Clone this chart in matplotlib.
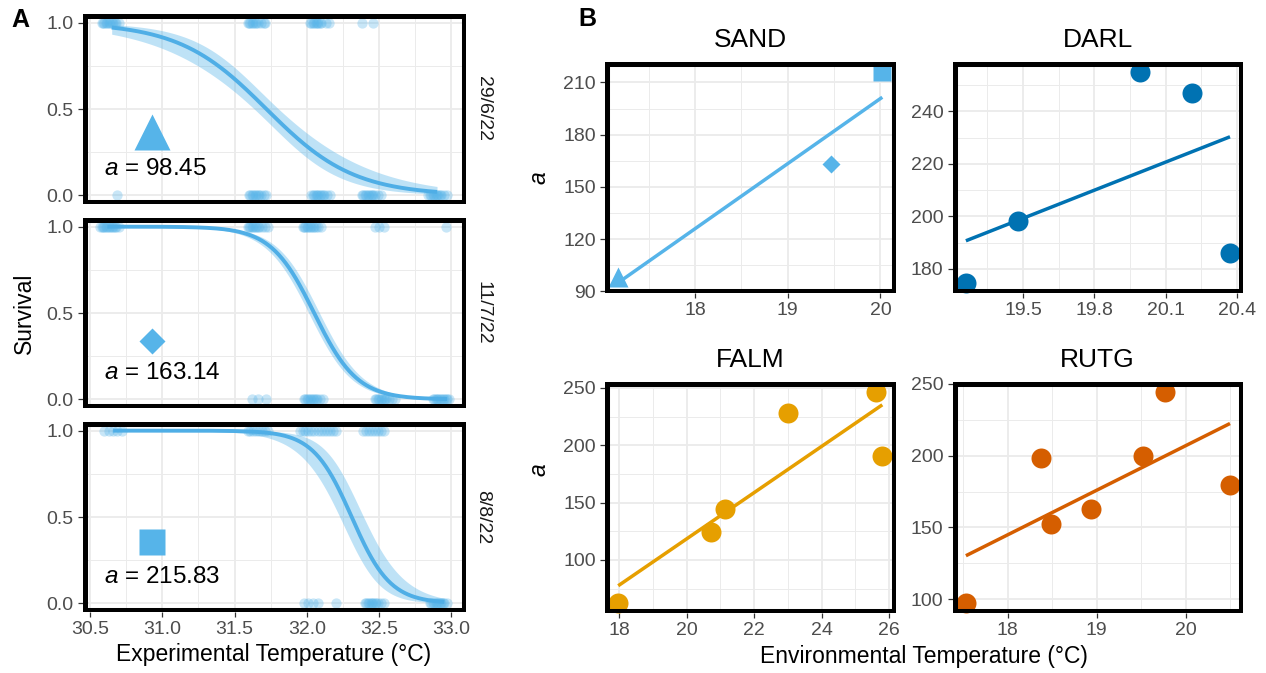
import numpy as np
import matplotlib
matplotlib.use("Agg")
import matplotlib.pyplot as plt

plt.rcParams["font.family"] = ["Liberation Sans", "DejaVu Sans"]
plt.rcParams["mathtext.fontset"] = "custom"
plt.rcParams["mathtext.rm"] = "Liberation Sans"
plt.rcParams["mathtext.it"] = "Liberation Sans:italic"

# ---------------- panel A: survival vs experimental temperature ----------------
dates = ["29/6/22", "11/7/22", "8/8/22"]
a_vals = [98.45, 163.14, 215.83]
a_shapes = ["^", "D", "s"]
a_shape_size = [26.6, 13.7, 19.4]
a_shape_y = [0.367, 0.34, 0.355]

# raw observations: temperatures of survivors (1) and dead (0)
alive_1 = [30.58, 30.59, 30.60, 30.61, 30.62, 30.63, 30.64, 30.65, 30.66, 30.67, 30.68, 30.70,
           31.59, 31.60, 31.61, 31.62, 31.63, 31.64, 31.65, 31.66, 31.68, 31.70, 31.71,
           32.02, 32.03, 32.04, 32.05, 32.06, 32.07, 32.08, 32.09, 32.10, 32.13, 32.15,
           32.38, 32.46]
dead_1 = [30.69,
          31.60, 31.61, 31.62, 31.63, 31.64, 31.65, 31.66, 31.67, 31.68, 31.70, 31.72,
          32.03, 32.04, 32.05, 32.06, 32.07, 32.08, 32.09, 32.10, 32.11, 32.12, 32.14, 32.16,
          32.38, 32.39, 32.40, 32.41, 32.42, 32.43, 32.44, 32.45, 32.46, 32.47, 32.49, 32.51,
          32.84, 32.85, 32.86, 32.87, 32.88, 32.89, 32.90, 32.91, 32.92, 32.93, 32.95, 32.97]
alive_2 = [30.57, 30.58, 30.59, 30.60, 30.61, 30.62, 30.63, 30.64, 30.65, 30.66, 30.67, 30.68, 30.70,
           31.59, 31.60, 31.61, 31.62, 31.63, 31.64, 31.65, 31.66, 31.67, 31.69, 31.71, 31.73,
           31.97, 31.98, 31.99, 32.00, 32.01, 32.02, 32.03, 32.04, 32.05, 32.06, 32.08, 32.10,
           32.47, 32.50, 32.53, 32.96]
dead_2 = [31.62, 31.66, 31.72,
          31.98, 31.99, 32.00, 32.01, 32.02, 32.03, 32.04, 32.05, 32.06, 32.07, 32.09, 32.11,
          32.47, 32.48, 32.49, 32.50, 32.51, 32.52, 32.53, 32.54, 32.55, 32.57, 32.59, 32.61,
          32.87, 32.88, 32.89, 32.90, 32.91, 32.92, 32.93, 32.94, 32.95, 32.96, 32.97, 32.98]
alive_3 = [30.60, 30.63, 30.66, 30.69, 30.72,
           31.59, 31.61, 31.63, 31.65, 31.67, 31.69, 31.71, 31.73,
           31.95, 31.97, 31.99, 32.01, 32.03, 32.05, 32.08,
           32.10, 32.12, 32.14, 32.16, 32.18, 32.20,
           32.39, 32.41, 32.43, 32.45, 32.47, 32.49, 32.51, 32.53]
dead_3 = [31.98, 32.01, 32.04, 32.08, 32.20,
          32.40, 32.41, 32.42, 32.43, 32.44, 32.45, 32.46, 32.47, 32.48, 32.49, 32.51, 32.53,
          32.85, 32.86, 32.87, 32.88, 32.89, 32.90, 32.91, 32.92, 32.93, 32.94, 32.95, 32.97]
alive = [alive_1, alive_2, alive_3]
dead = [dead_1, dead_2, dead_3]

# fitted logistic (glm) curves, parameters
fit_mid = [31.72, 32.05, 32.31]
fit_slope = [3.3, 6.7, 7.5]
ci_mid = [0.27, 0.25, 0.6]      # half width of CI on logit scale at midpoint
ci_grow = [0.8, 0.5, 1.8]       # growth of CI half width away from midpoint
fit_from = [30.65, 30.62, 30.66]
fit_to = [32.90, 32.97, 32.95]

# ---------------- panel B: a vs environmental temperature ----------------
sites = ["SAND", "DARL", "FALM", "RUTG"]
site_cols = ["#56B4E9", "#0072B2", "#E69F00", "#D55E00"]
sand_t = [17.17, 19.47, 20.02]
sand_a = a_vals
darl_t = [19.26, 19.48, 19.99, 20.21, 20.37]
darl_a = [174.7, 198.1, 254.9, 247.0, 186.1]
falm_t = [17.97, 20.71, 21.13, 23.0, 25.62, 25.8]
falm_a = [62.7, 124.7, 144.2, 228.5, 246.2, 190.6]
rutg_t = [17.53, 18.37, 18.49, 18.94, 19.52, 19.77, 20.50]
rutg_a = [97.6, 198.4, 152.4, 163.0, 200.0, 244.2, 179.4]
site_t = [sand_t, darl_t, falm_t, rutg_t]
site_a = [sand_a, darl_a, falm_a, rutg_a]
site_xticks = [[18, 19, 20], [19.5, 19.8, 20.1, 20.4], [18, 20, 22, 24, 26], [18, 19, 20]]
site_yticks = [[90, 120, 150, 180, 210], [180, 200, 220, 240], [100, 150, 200, 250], [100, 150, 200, 250]]

W, H = 1266, 673
fig = plt.figure(figsize=(W / 100, H / 100), dpi=100)


def px_axes(l, t, w, h):
    return fig.add_axes([l / W, 1 - (t + h) / H, w / W, h / H])


def ftext(x, y, s, **kw):
    fig.text(x / W, 1 - y / H, s, **kw)


def minors(ticks):
    t = np.asarray(ticks, float)
    d = t[1] - t[0]
    ext = np.concatenate([[t[0] - d], t, [t[-1] + d]])
    return (ext[:-1] + ext[1:]) / 2


def expand(lo, hi):
    r = hi - lo
    return lo - 0.05 * r, hi + 0.05 * r


def style(ax, xt, yt):
    ax.set_xticks(xt)
    ax.set_yticks(yt)
    ax.set_xticks(minors(xt), minor=True)
    ax.set_yticks(minors(yt), minor=True)
    ax.grid(True, which="major", color="#EBEBEB", lw=1.3)
    ax.grid(True, which="minor", color="#EBEBEB", lw=0.7)
    ax.set_axisbelow(True)
    ax.tick_params(which="major", length=3.6, width=0.9, color="#333333",
                   labelcolor="#4D4D4D", labelsize=14, pad=3)
    ax.tick_params(which="minor", length=0)
    for s in ax.spines.values():
        s.set_linewidth(6.5)
        s.set_color("black")
        s.set_clip_path(ax.patch)


blue = "#56B4E9"
all_t = np.concatenate([np.concatenate([a, d]) for a, d in zip(alive, dead)])
xlim_a = expand(all_t.min(), all_t.max())
facet_top = [14, 218, 422]
for i in range(3):
    ax = px_axes(82.7, facet_top[i], 383.3, 190)
    style(ax, [30.5, 31.0, 31.5, 32.0, 32.5, 33.0], [0.0, 0.5, 1.0])
    ax.set_xlim(*xlim_a)
    ax.set_ylim(-0.05, 1.05)
    ax.set_yticklabels(["0.0", "0.5", "1.0"])
    if i < 2:
        ax.tick_params(axis="x", which="major", length=0, labelbottom=False)
    else:
        ax.set_xticklabels(["30.5", "31.0", "31.5", "32.0", "32.5", "33.0"])
    ax.scatter(alive[i], np.ones(len(alive[i])), s=55, color=blue, alpha=0.32, lw=0)
    ax.scatter(dead[i], np.zeros(len(dead[i])), s=55, color=blue, alpha=0.32, lw=0)
    xs = np.linspace(fit_from[i], fit_to[i], 300)
    eta = -fit_slope[i] * (xs - fit_mid[i])
    hw = np.sqrt(ci_mid[i] ** 2 + (ci_grow[i] * (xs - fit_mid[i])) ** 2)
    ax.fill_between(xs, 1 / (1 + np.exp(-(eta - hw))), 1 / (1 + np.exp(-(eta + hw))),
                    color=blue, alpha=0.38, lw=0)
    ax.plot(xs, 1 / (1 + np.exp(-eta)), color="#4FAEE6", lw=2.8, solid_capstyle="butt")
    ax.plot([30.93], [a_shape_y[i]], marker=a_shapes[i], ms=a_shape_size[i],
            color=blue, mec="none", ls="none")
    ax.text(30.594, 0.117, r"$a$ = %.2f" % a_vals[i], fontsize=17.5, color="black",
            va="baseline", ha="left")
    ftext(483, facet_top[i] + 95, dates[i], rotation=-90, ha="center", va="center",
          fontsize=14, color="#1A1A1A")

ftext(274, 655, "Experimental Temperature (°C)", ha="center", va="center", fontsize=16.5)
ftext(24, 313, "Survival", ha="center", va="center", rotation=90, fontsize=16.5)
ftext(20, 20, "A", ha="center", va="center", fontsize=18, fontweight="bold")

# panel B
sand_shapes = ["^", "D", "s"]
sand_sizes = [14.4, 8.7, 13.0]
b_left = [605, 952.7, 605, 952.7]
b_top = [61.7, 61.7, 381.7, 381.7]
for k in range(4):
    ax = px_axes(b_left[k], b_top[k], 290.5, 231.5)
    style(ax, site_xticks[k], site_yticks[k])
    t = np.asarray(site_t[k], float)
    a = np.asarray(site_a[k], float)
    coef = np.polyfit(t, a, 1)
    lx = np.array([t.min(), t.max()])
    ly = np.polyval(coef, lx)
    ax.set_xlim(*expand(t.min(), t.max()))
    ax.set_ylim(*expand(min(a.min(), ly.min()), max(a.max(), ly.max())))
    ax.plot(lx, ly, color=site_cols[k], lw=2.5, solid_capstyle="butt", zorder=2)
    if k == 0:
        for j in range(3):
            ax.plot([t[j]], [a[j]], marker=sand_shapes[j], ms=sand_sizes[j],
                    color=site_cols[k], mec="none", ls="none", zorder=2.2)
    else:
        ax.plot(t, a, "o", ms=14.4, color=site_cols[k], mec="none", zorder=2.2)
    ftext(b_left[k] + 145, b_top[k] - 22, sites[k], ha="center", va="center", fontsize=19)

ftext(540, 178, r"$a$", ha="center", va="center", rotation=90, fontsize=16.5)
ftext(540, 470, r"$a$", ha="center", va="center", rotation=90, fontsize=16.5)
ftext(924, 657, "Environmental Temperature (°C)", ha="center", va="center", fontsize=16.5)
ftext(587, 19, "B", ha="center", va="center", fontsize=18, fontweight="bold")

fig.savefig("out.png", dpi=100)
